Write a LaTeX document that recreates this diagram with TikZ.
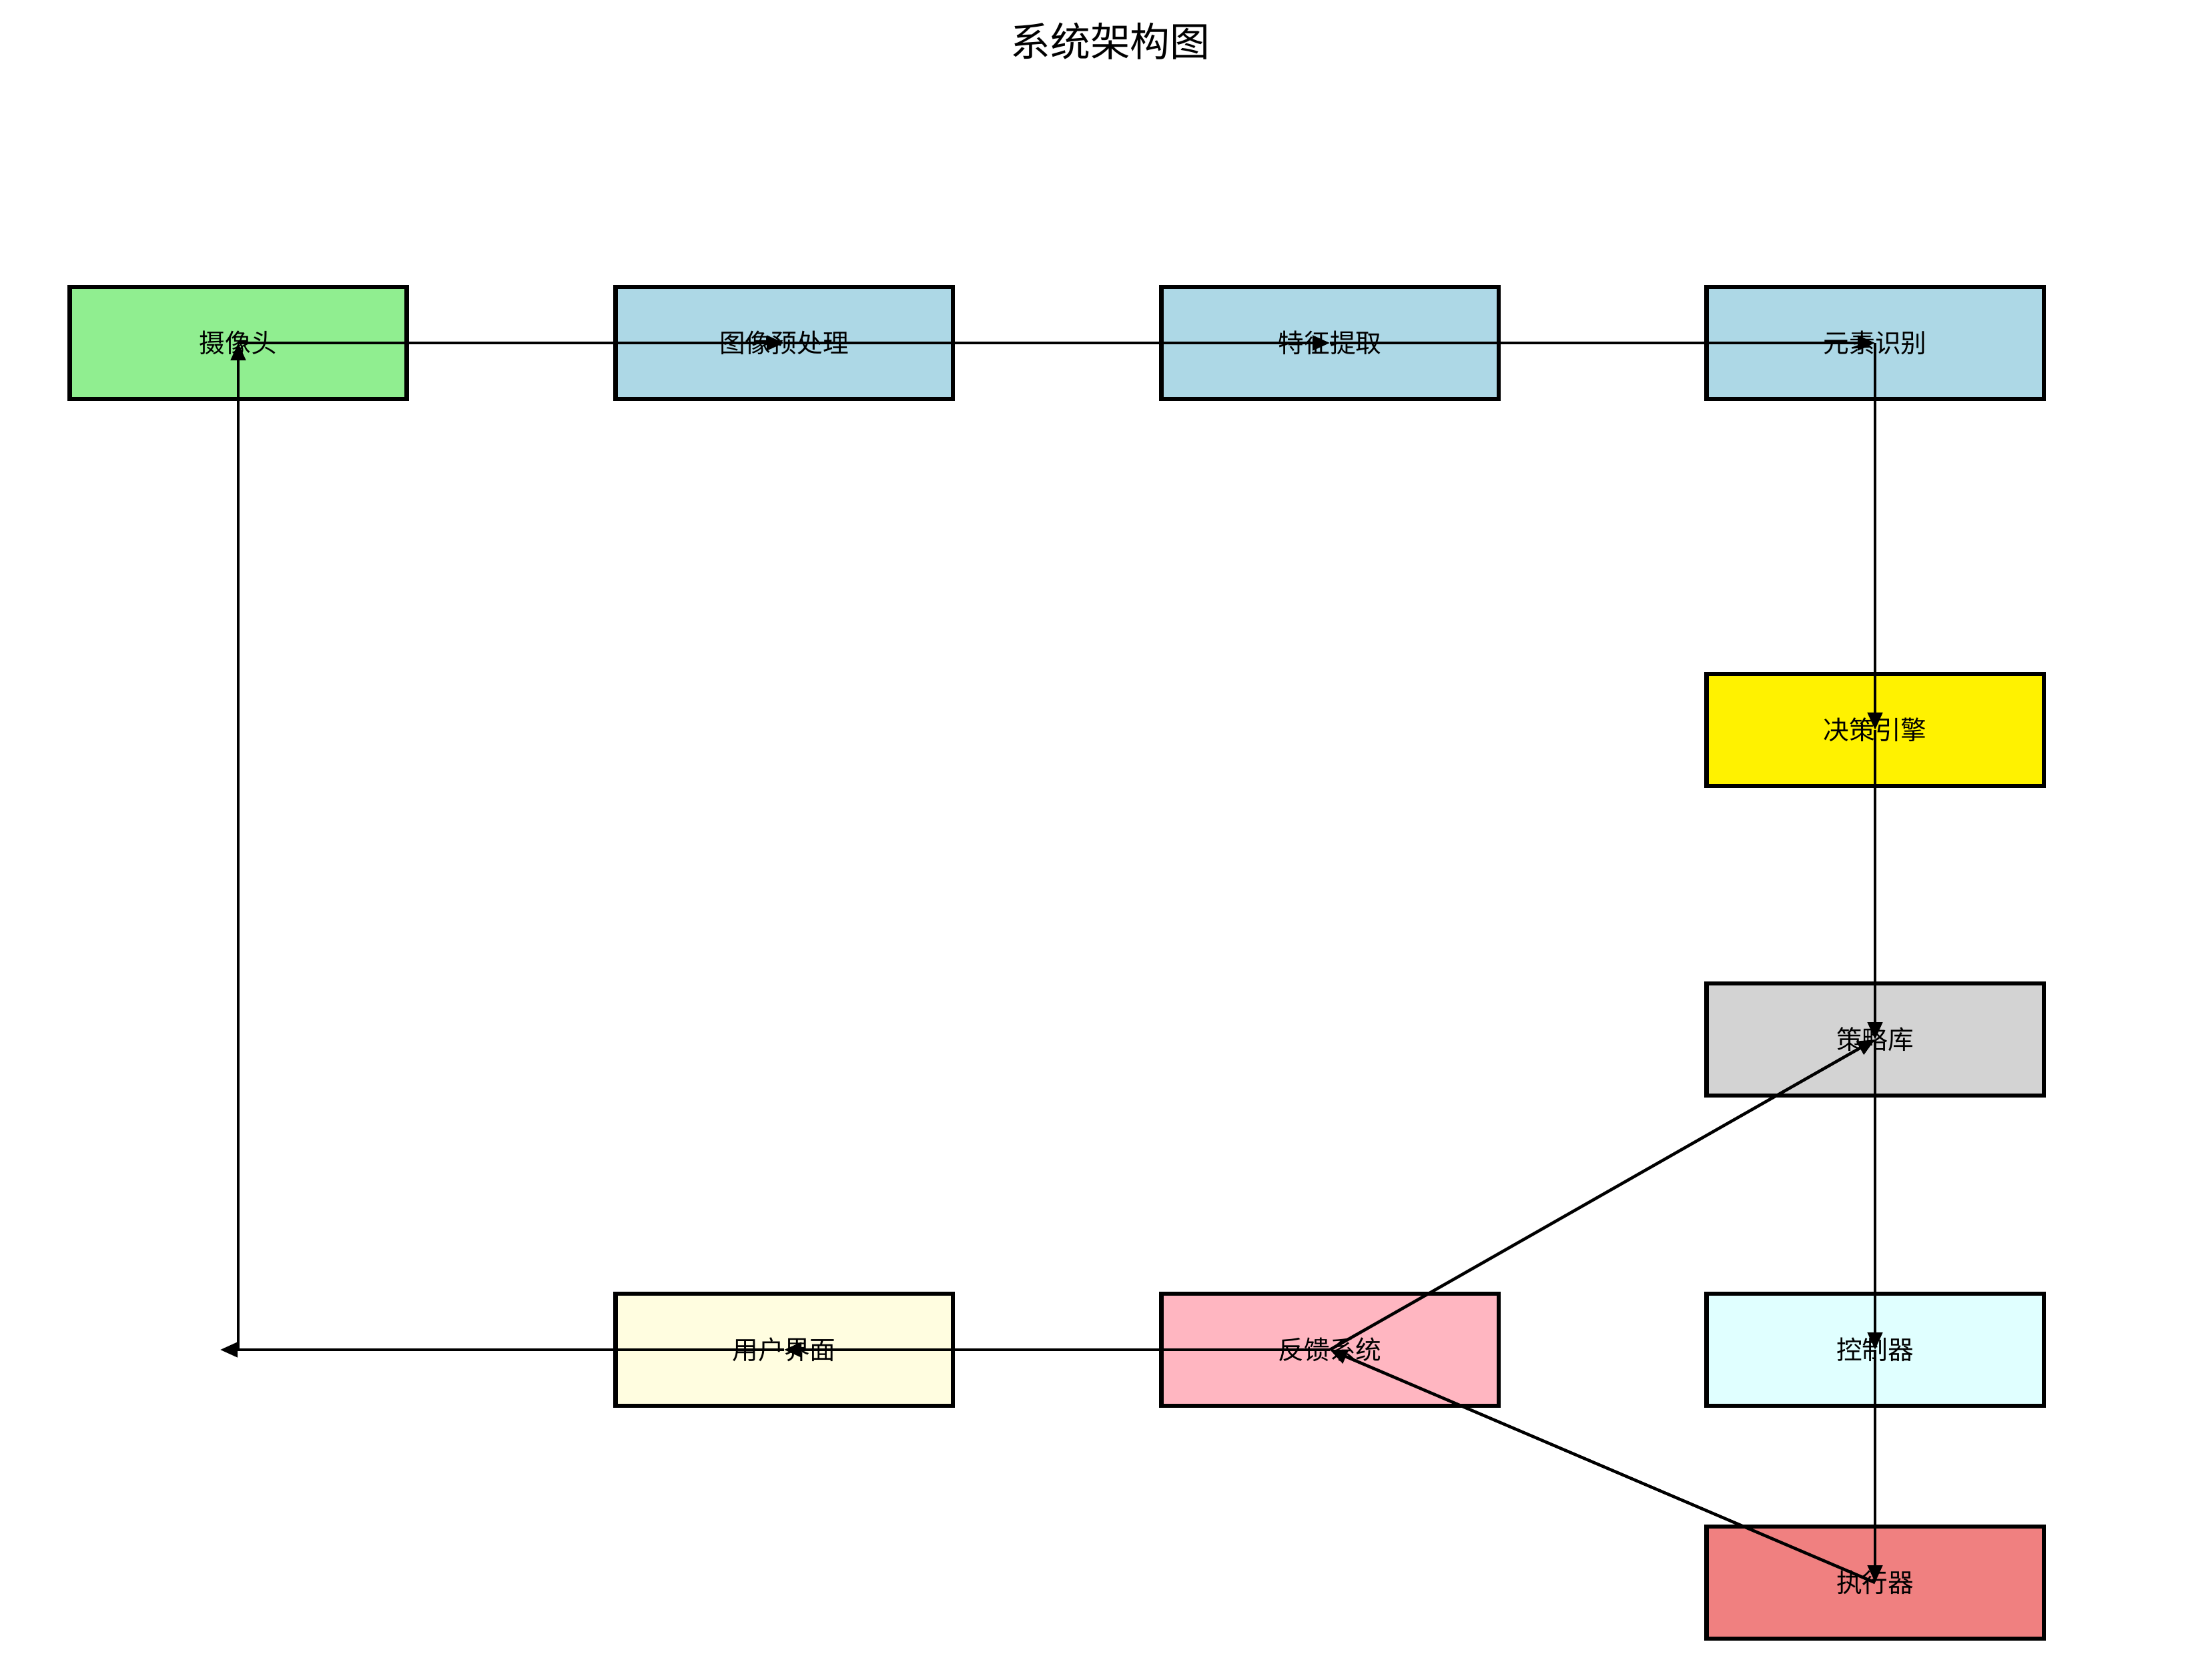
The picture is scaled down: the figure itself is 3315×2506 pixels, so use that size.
\documentclass[tikz,border=0pt]{standalone}
\usepackage{fontspec}
\newfontfamily\cjk{Noto Sans CJK SC}
\usetikzlibrary{arrows.meta}
\begin{document}
\begin{tikzpicture}[x=0.01cm,y=-0.01cm,
  box/.style={draw=black,line width=1.8pt,minimum width=5.05cm,minimum height=1.68cm,inner sep=0pt,font=\cjk\fontsize{11}{13}\selectfont},
  arr/.style={line width=1.3pt,-{Triangle[length=0.26cm,width=0.22cm]}}]
\useasboundingbox (0,0) rectangle (3315,2506);
\node[font=\cjk\fontsize{17}{20}\selectfont] (title) at (1664,62) {系统架构图};
\node[box,fill={rgb,255:red,144;green,238;blue,144}] (cam) at (357,514) {摄像头};
\node[box,fill={rgb,255:red,173;green,216;blue,230}] (pre) at (1175,514) {图像预处理};
\node[box,fill={rgb,255:red,173;green,216;blue,230}] (feat) at (1993,514) {特征提取};
\node[box,fill={rgb,255:red,173;green,216;blue,230}] (rec) at (2810,514) {元素识别};
\node[box,fill=yellow] (dec) at (2810,1094) {决策引擎};
\node[box,fill={rgb,255:red,211;green,211;blue,211}] (strat) at (2810,1558) {策略库};
\node[box,fill={rgb,255:red,224;green,255;blue,255}] (ctrl) at (2810,2023) {控制器};
\node[box,fill={rgb,255:red,240;green,128;blue,128}] (exec) at (2810,2372) {执行器};
\node[box,fill={rgb,255:red,255;green,182;blue,193}] (fb) at (1993,2023) {反馈系统};
\node[box,fill={rgb,255:red,255;green,253;blue,224}] (ui) at (1175,2023) {用户界面};
\coordinate (loop) at (330,2023);
\coordinate (loopc) at (357,2023);
\draw[arr] (cam.center) -- (pre.center);
\draw[arr] (pre.center) -- (feat.center);
\draw[arr] (feat.center) -- (rec.center);
\draw[arr] (rec.center) -- (dec.center);
\draw[arr] (dec.center) -- (strat.center);
\draw[arr] (strat.center) -- (ctrl.center);
\draw[arr] (ctrl.center) -- (exec.center);
\draw[arr] (exec.center) -- (fb.center);
\draw[arr] (fb.center) -- (strat.center);
\draw[arr] (fb.center) -- (ui.center);
\draw[arr] (ui.center) -- (loop);
\draw[arr] (loopc) -- (cam.center);
\end{tikzpicture}
\end{document}
